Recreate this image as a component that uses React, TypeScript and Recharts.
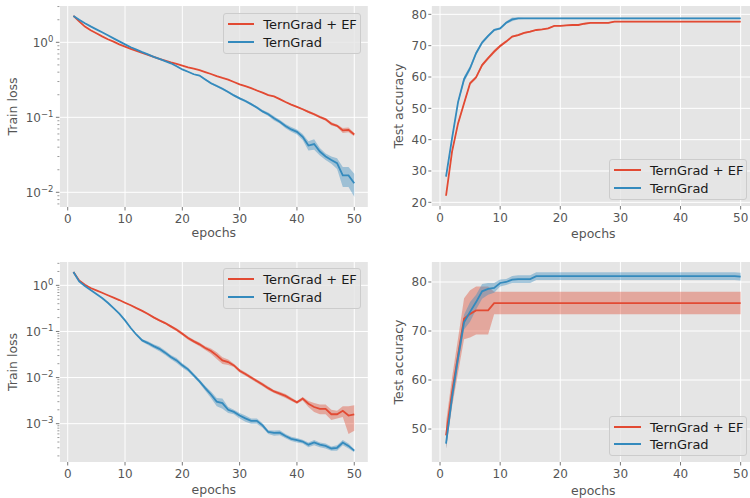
import React from "react";
import { Area, CartesianGrid, ComposedChart, Line, XAxis, YAxis } from "recharts";

const RED = "#E24A33";
const BLUE = "#348ABD";
const INK = "#555555";
const PLOT_BG = "#E5E5E5";
const FONT = '"DejaVu Sans", sans-serif';
const X_HEIGHT = 40;

const epochs = [
  1, 2, 3, 4, 5, 6, 7, 8, 9, 10, 11, 12, 13, 14, 15, 16, 17, 18, 19, 20, 21, 22, 23, 24, 25,
  26, 27, 28, 29, 30, 31, 32, 33, 34, 35, 36, 37, 38, 39, 40, 41, 42, 43, 44, 45, 46, 47, 48, 49, 50,
];
const epochTicks = [0, 10, 20, 30, 40, 50];
const seriesNames = ["TernGrad + EF", "TernGrad"];

// top-left: train loss
const lossTopEF = [
  2.25, 1.9, 1.62, 1.45, 1.32, 1.2, 1.1, 1.02, 0.94, 0.875,
  0.82, 0.77, 0.72, 0.68, 0.64, 0.6, 0.57, 0.54, 0.515, 0.49,
  0.465, 0.445, 0.425, 0.4, 0.378, 0.355, 0.335, 0.318, 0.296, 0.275,
  0.26, 0.245, 0.228, 0.213, 0.198, 0.19, 0.175, 0.16, 0.148, 0.138,
  0.128, 0.118, 0.11, 0.101, 0.094, 0.082, 0.077, 0.067, 0.068, 0.059,
];
const lossTopEFStd = [
  0.02, 0.02, 0.015, 0.01, 0.01, 0.01, 0.008, 0.008, 0.006, 0.006,
  0.005, 0.005, 0.005, 0.005, 0.005, 0.004, 0.004, 0.004, 0.004, 0.004,
  0.004, 0.004, 0.004, 0.004, 0.004, 0.004, 0.003, 0.003, 0.003, 0.003,
  0.003, 0.003, 0.003, 0.003, 0.003, 0.003, 0.003, 0.003, 0.003, 0.003,
  0.003, 0.004, 0.004, 0.004, 0.004, 0.004, 0.003, 0.005, 0.005, 0.003,
];
const lossTopTG = [
  2.25, 2.0, 1.8, 1.63, 1.49, 1.36, 1.24, 1.13, 1.03, 0.94,
  0.86, 0.8, 0.74, 0.69, 0.64, 0.6, 0.56, 0.525, 0.48, 0.435,
  0.405, 0.375, 0.36, 0.32, 0.284, 0.262, 0.24, 0.218, 0.196, 0.179,
  0.165, 0.15, 0.135, 0.12, 0.11, 0.097, 0.0875, 0.0766, 0.069, 0.064,
  0.055, 0.042, 0.044, 0.035, 0.03, 0.027, 0.0245, 0.0168, 0.0168, 0.0132,
];
const lossTopTGStd = [
  0.02, 0.02, 0.015, 0.01, 0.01, 0.01, 0.008, 0.008, 0.006, 0.006,
  0.005, 0.005, 0.005, 0.005, 0.005, 0.005, 0.005, 0.005, 0.006, 0.006,
  0.006, 0.006, 0.007, 0.008, 0.009, 0.009, 0.008, 0.007, 0.007, 0.006,
  0.006, 0.005, 0.005, 0.005, 0.006, 0.006, 0.005, 0.005, 0.005, 0.005,
  0.005, 0.006, 0.007, 0.004, 0.003, 0.003, 0.004, 0.005, 0.005, 0.0045,
];

// top-right: test accuracy
const accTopEF = [
  22.1, 36.2, 45.2, 51.6, 58.0, 59.9, 63.8, 66.0, 68.1, 69.9,
  71.3, 72.9, 73.4, 74.1, 74.5, 75.0, 75.2, 75.5, 76.3, 76.3,
  76.5, 76.6, 76.6, 77.0, 77.3, 77.3, 77.3, 77.3, 77.7, 77.7,
  77.7, 77.7, 77.7, 77.7, 77.7, 77.7, 77.7, 77.7, 77.7, 77.7,
  77.7, 77.7, 77.7, 77.7, 77.7, 77.7, 77.7, 77.7, 77.7, 77.7,
];
const accTopEFStd = [
  0.3, 0.5, 0.5, 0.5, 0.5, 0.5, 0.5, 0.5, 0.6, 0.5,
  0.4, 0.3, 0.3, 0.3, 0.3, 0.2, 0.2, 0.2, 0.2, 0.2,
  0.2, 0.2, 0.2, 0.2, 0.2, 0.2, 0.2, 0.2, 0.2, 0.2,
  0.2, 0.2, 0.2, 0.2, 0.2, 0.2, 0.2, 0.2, 0.2, 0.2,
  0.2, 0.2, 0.2, 0.2, 0.2, 0.2, 0.2, 0.2, 0.2, 0.2,
];
const accTopTG = [
  28.2, 40.4, 52.0, 59.3, 62.8, 67.6, 71.0, 73.1, 75.0, 75.5,
  77.3, 78.4, 78.7, 78.7, 78.7, 78.7, 78.7, 78.7, 78.7, 78.7,
  78.7, 78.7, 78.7, 78.7, 78.7, 78.7, 78.7, 78.7, 78.7, 78.7,
  78.7, 78.7, 78.7, 78.7, 78.7, 78.7, 78.7, 78.7, 78.7, 78.7,
  78.7, 78.7, 78.7, 78.7, 78.7, 78.7, 78.7, 78.7, 78.7, 78.7,
];
const accTopTGStd = [
  0.3, 0.5, 0.5, 0.9, 0.8, 0.6, 0.5, 0.5, 0.4, 0.3,
  0.4, 0.6, 0.3, 0.2, 0.2, 0.2, 0.2, 0.2, 0.2, 0.2,
  0.2, 0.2, 0.2, 0.2, 0.2, 0.2, 0.2, 0.2, 0.2, 0.2,
  0.2, 0.2, 0.2, 0.2, 0.2, 0.2, 0.2, 0.2, 0.2, 0.2,
  0.2, 0.2, 0.2, 0.2, 0.2, 0.2, 0.2, 0.2, 0.2, 0.2,
];

// bottom-left: train loss
const lossBotEF = [
  1.95, 1.28, 1.03, 0.875, 0.78, 0.69, 0.61, 0.54, 0.48, 0.42,
  0.37, 0.32, 0.28, 0.24, 0.202, 0.174, 0.152, 0.129, 0.109, 0.0895,
  0.072, 0.061, 0.0525, 0.0437, 0.0377, 0.0303, 0.0236, 0.0217, 0.0184, 0.0141,
  0.012, 0.01, 0.0084, 0.0071, 0.0059, 0.005, 0.0045, 0.004, 0.0034, 0.0029,
  0.0035, 0.0027, 0.0023, 0.0021, 0.0021, 0.0016, 0.0016, 0.0019, 0.0015, 0.0016,
];
const lossBotEFStd = [
  0.02, 0.02, 0.01, 0.01, 0.01, 0.01, 0.01, 0.01, 0.01, 0.01,
  0.01, 0.01, 0.01, 0.01, 0.01, 0.008, 0.008, 0.008, 0.008, 0.007,
  0.006, 0.005, 0.005, 0.004, 0.005, 0.005, 0.004, 0.003, 0.0015, 0.0012,
  0.001, 0.0008, 0.0007, 0.0006, 0.0005, 0.0004, 0.0004, 0.0004, 0.0003, 0.0002,
  0.0003, 0.0004, 0.0005, 0.0005, 0.0005, 0.0004, 0.0003, 0.0005, 0.0009, 0.0009,
];
const lossBotTG = [
  1.95, 1.22, 0.97, 0.79, 0.65, 0.53, 0.42, 0.32, 0.243, 0.174,
  0.119, 0.085, 0.064, 0.056, 0.048, 0.042, 0.0347, 0.0279, 0.0236, 0.0184,
  0.0151, 0.0112, 0.0083, 0.0059, 0.0043, 0.003, 0.0028, 0.002, 0.0018, 0.0015,
  0.0013, 0.00115, 0.00115, 0.00092, 0.00066, 0.00063, 0.00064, 0.00054, 0.00047, 0.00044,
  0.00041, 0.00035, 0.00039, 0.00035, 0.00033, 0.00029, 0.0003, 0.00039, 0.00033, 0.00026,
];
const lossBotTGStd = [
  0.02, 0.02, 0.01, 0.01, 0.01, 0.01, 0.01, 0.01, 0.008, 0.006,
  0.004, 0.003, 0.004, 0.005, 0.005, 0.005, 0.004, 0.003, 0.003, 0.002,
  0.0015, 0.001, 0.0008, 0.0007, 0.0007, 0.0006, 0.0007, 0.0003, 0.0002, 0.0002,
  0.0002, 0.00015, 0.00015, 0.0001, 0.00006, 0.00008, 0.00008, 0.00006, 0.00005, 0.00005,
  0.00004, 0.00004, 0.00005, 0.00004, 0.00004, 0.00003, 0.00004, 0.00005, 0.00004, 0.00002,
];

// bottom-right: test accuracy
const accBotEF = [
  48.7, 57.5, 65.0, 72.5, 73.5, 74.2, 74.2, 74.2, 75.7, 75.7,
  75.7, 75.7, 75.7, 75.7, 75.7, 75.7, 75.7, 75.7, 75.7, 75.7,
  75.7, 75.7, 75.7, 75.7, 75.7, 75.7, 75.7, 75.7, 75.7, 75.7,
  75.7, 75.7, 75.7, 75.7, 75.7, 75.7, 75.7, 75.7, 75.7, 75.7,
  75.7, 75.7, 75.7, 75.7, 75.7, 75.7, 75.7, 75.7, 75.7, 75.7,
];
const accBotEFStd = [
  2.7, 3.0, 3.5, 4.2, 4.8, 4.9, 4.9, 4.9, 2.3, 2.3,
  2.3, 2.3, 2.3, 2.3, 2.3, 2.3, 2.3, 2.3, 2.3, 2.3,
  2.3, 2.3, 2.3, 2.3, 2.3, 2.3, 2.3, 2.3, 2.3, 2.3,
  2.3, 2.3, 2.3, 2.3, 2.3, 2.3, 2.3, 2.3, 2.3, 2.3,
  2.3, 2.3, 2.3, 2.3, 2.3, 2.3, 2.3, 2.3, 2.3, 2.3,
];
const accBotTG = [
  47.0, 56.5, 64.5, 71.8, 73.9, 75.9, 78.1, 78.6, 78.8, 79.8,
  80.0, 80.5, 80.6, 80.6, 80.6, 81.2, 81.2, 81.2, 81.2, 81.2,
  81.2, 81.2, 81.2, 81.2, 81.2, 81.2, 81.2, 81.2, 81.2, 81.2,
  81.2, 81.2, 81.2, 81.2, 81.2, 81.2, 81.2, 81.2, 81.2, 81.2,
  81.2, 81.2, 81.2, 81.2, 81.2, 81.2, 81.2, 81.2, 81.2, 81.1,
];
const accBotTGStd = [
  1.0, 1.5, 1.5, 1.5, 2.0, 1.5, 1.5, 1.2, 1.0, 0.7,
  0.6, 0.7, 0.8, 0.8, 0.8, 0.8, 0.8, 0.8, 0.8, 0.8,
  0.8, 0.8, 0.8, 0.8, 0.8, 0.8, 0.8, 0.8, 0.8, 0.8,
  0.8, 0.8, 0.8, 0.8, 0.8, 0.8, 0.8, 0.8, 0.8, 0.8,
  0.8, 0.8, 0.8, 0.8, 0.8, 0.8, 0.8, 0.8, 0.8, 0.8,
];

const lossTopMajor = [0.01, 0.1, 1];
const lossBotMajor = [0.001, 0.01, 0.1, 1];
const accTopTicks = [20, 30, 40, 50, 60, 70, 80];
const accBotTicks = [50, 60, 70, 80];

function minorLogTicks(domain: [number, number]) {
  const out: number[] = [];
  const lo = Math.floor(Math.log10(domain[0]));
  const hi = Math.ceil(Math.log10(domain[1]));
  for (let d = lo; d <= hi; d++) {
    for (let m = 2; m <= 9; m++) {
      const v = Number((m * Math.pow(10, d)).toPrecision(6));
      if (v >= domain[0] && v <= domain[1]) out.push(v);
    }
  }
  return out;
}

function LogTick(props: any) {
  const { y, payload, right, majors } = props;
  const v = payload.value;
  const major = majors.includes(v);
  const exp = Math.round(Math.log10(v));
  return (
    <g>
      <line
        x1={right - (major ? 3.5 : 2)}
        x2={right}
        y1={y}
        y2={y}
        stroke={INK}
        strokeWidth={major ? 0.8 : 0.6}
      />
      {major && (
        <text x={right - 6} y={y} dy={4.4} textAnchor="end" fill={INK} fontSize={12} fontFamily={FONT}>
          10
          <tspan dy={-4.8} fontSize={8.5}>
            {exp === 0 ? "0" : "\u2212" + Math.abs(exp)}
          </tspan>
        </text>
      )}
    </g>
  );
}

type PanelProps = {
  left: number;
  top: number;
  yWidth: number;
  plotW: number;
  plotH: number;
  log: boolean;
  yDomain: [number, number];
  majors: number[];
  yLabel: string;
  yLabelX: number;
  xLabelOffset: number;
  ef: number[];
  efStd: number[];
  tg: number[];
  tgStd: number[];
};

function Panel(p: PanelProps) {
  const floor = p.yDomain[0] * 0.5;
  const rows = epochs.map((epoch, i) => ({
    epoch,
    ef: p.ef[i],
    efBand: [Math.max(p.ef[i] - p.efStd[i], floor), p.ef[i] + p.efStd[i]],
    tg: p.tg[i],
    tgBand: [Math.max(p.tg[i] - p.tgStd[i], floor), p.tg[i] + p.tgStd[i]],
  }));
  const labelStyle = { fill: INK, fontSize: 12.5, fontFamily: FONT };
  const yTicks = p.log ? [...p.majors, ...minorLogTicks(p.yDomain)] : p.majors;

  return (
    <div style={{ position: "absolute", left: p.left, top: p.top }}>
      <ComposedChart
        width={p.yWidth + p.plotW}
        height={p.plotH + X_HEIGHT}
        data={rows}
        margin={{ top: 0, right: 0, bottom: 0, left: 0 }}
        style={{ fontFamily: FONT }}
      >
        <CartesianGrid fill={PLOT_BG} fillOpacity={1} stroke="#FFFFFF" strokeWidth={1} horizontalValues={p.majors} />
        <XAxis
          dataKey="epoch"
          type="number"
          domain={[-1.45, 52.45]}
          allowDataOverflow
          ticks={epochTicks}
          interval={0}
          height={X_HEIGHT}
          axisLine={false}
          tickLine={{ stroke: INK, strokeWidth: 0.8 }}
          tickSize={3.5}
          tickMargin={3.5}
          tick={{ fill: INK, fontSize: 12, fontFamily: FONT }}
          label={{ value: "epochs", position: "insideBottom", offset: p.xLabelOffset, fill: INK, style: labelStyle }}
        />
        {p.log ? (
          <YAxis
            type="number"
            scale="log"
            domain={p.yDomain}
            allowDataOverflow
            ticks={yTicks}
            interval={0}
            width={p.yWidth}
            axisLine={false}
            tickLine={false}
            tick={(t: any) => <LogTick {...t} right={p.yWidth} majors={p.majors} />}
            label={{
              value: p.yLabel,
              angle: -90,
              position: "insideLeft",
              offset: p.yLabelX,
              fill: INK,
              style: { ...labelStyle, textAnchor: "middle" },
            }}
          />
        ) : (
          <YAxis
            type="number"
            domain={p.yDomain}
            allowDataOverflow
            ticks={yTicks}
            interval={0}
            width={p.yWidth}
            axisLine={false}
            tickLine={{ stroke: INK, strokeWidth: 0.8 }}
            tickSize={3}
            tickMargin={1.5}
            tick={{ fill: INK, fontSize: 12, fontFamily: FONT }}
            label={{
              value: p.yLabel,
              angle: -90,
              position: "insideLeft",
              offset: p.yLabelX,
              fill: INK,
              style: { ...labelStyle, textAnchor: "middle" },
            }}
          />
        )}
        <Area
          dataKey="efBand"
          type="linear"
          stroke="none"
          fill={RED}
          fillOpacity={0.4}
          dot={false}
          activeDot={false}
          legendType="none"
          isAnimationActive={false}
        />
        <Line dataKey="ef" type="linear" stroke={RED} strokeWidth={1.8} dot={false} activeDot={false} isAnimationActive={false} />
        <Area
          dataKey="tgBand"
          type="linear"
          stroke="none"
          fill={BLUE}
          fillOpacity={0.4}
          dot={false}
          activeDot={false}
          legendType="none"
          isAnimationActive={false}
        />
        <Line dataKey="tg" type="linear" stroke={BLUE} strokeWidth={1.8} dot={false} activeDot={false} isAnimationActive={false} />
      </ComposedChart>
    </div>
  );
}

function LegendBox({ left, top }: { left: number; top: number }) {
  const colors = [RED, BLUE];
  return (
    <div
      style={{
        position: "absolute",
        left,
        top,
        width: 138,
        height: 40.5,
        boxSizing: "border-box",
        border: "1px solid #CCCCCC",
        borderRadius: 3,
        background: "rgba(229,229,229,0.8)",
      }}
    >
      {seriesNames.map((name, i) => {
        const cy = 10 + i * 17.7;
        return (
          <React.Fragment key={name}>
            <div style={{ position: "absolute", left: 4, top: cy - 1, width: 26.5, height: 2, background: colors[i] }} />
            <div
              style={{
                position: "absolute",
                left: 39.6,
                top: cy,
                transform: "translateY(-50%)",
                fontSize: 13,
                lineHeight: 1,
                color: "#1A1A1A",
                whiteSpace: "nowrap",
                fontFamily: FONT,
              }}
            >
              {name}
            </div>
          </React.Fragment>
        );
      })}
    </div>
  );
}

export default function App() {
  return (
    <div
      style={{
        position: "absolute",
        left: 0,
        top: 0,
        width: 750,
        height: 498,
        overflow: "hidden",
        background: "#FFFFFF",
        fontFamily: FONT,
      }}
    >
      <Panel
        left={0}
        top={6}
        yWidth={59.4}
        plotW={308.9}
        plotH={201}
        log
        yDomain={[0.00637, 3.05]}
        majors={lossTopMajor}
        yLabel="Train loss"
        yLabelX={12.5}
        xLabelOffset={9.5}
        ef={lossTopEF}
        efStd={lossTopEFStd}
        tg={lossTopTG}
        tgStd={lossTopTGStd}
      />
      <Panel
        left={375}
        top={6}
        yWidth={56.3}
        plotW={324.1}
        plotH={200}
        log={false}
        yDomain={[18.83, 82.66]}
        majors={accTopTicks}
        yLabel="Test accuracy"
        yLabelX={23.5}
        xLabelOffset={8}
        ef={accTopEF}
        efStd={accTopEFStd}
        tg={accTopTG}
        tgStd={accTopTGStd}
      />
      <Panel
        left={0}
        top={262.3}
        yWidth={59.4}
        plotW={308.9}
        plotH={200}
        log
        yDomain={[0.0001475, 3.21]}
        majors={lossBotMajor}
        yLabel="Train loss"
        yLabelX={12.5}
        xLabelOffset={8}
        ef={lossBotEF}
        efStd={lossBotEFStd}
        tg={lossBotTG}
        tgStd={lossBotTGStd}
      />
      <Panel
        left={375}
        top={262.3}
        yWidth={56.3}
        plotW={324.1}
        plotH={200}
        log={false}
        yDomain={[43.27, 84.08]}
        majors={accBotTicks}
        yLabel="Test accuracy"
        yLabelX={23.5}
        xLabelOffset={7}
        ef={accBotEF}
        efStd={accBotEFStd}
        tg={accBotTG}
        tgStd={accBotTGStd}
      />
      <LegendBox left={222.7} top={13.3} />
      <LegendBox left={609.3} top={159.3} />
      <LegendBox left={222.7} top={268.3} />
      <LegendBox left={609.3} top={415.7} />
    </div>
  );
}
